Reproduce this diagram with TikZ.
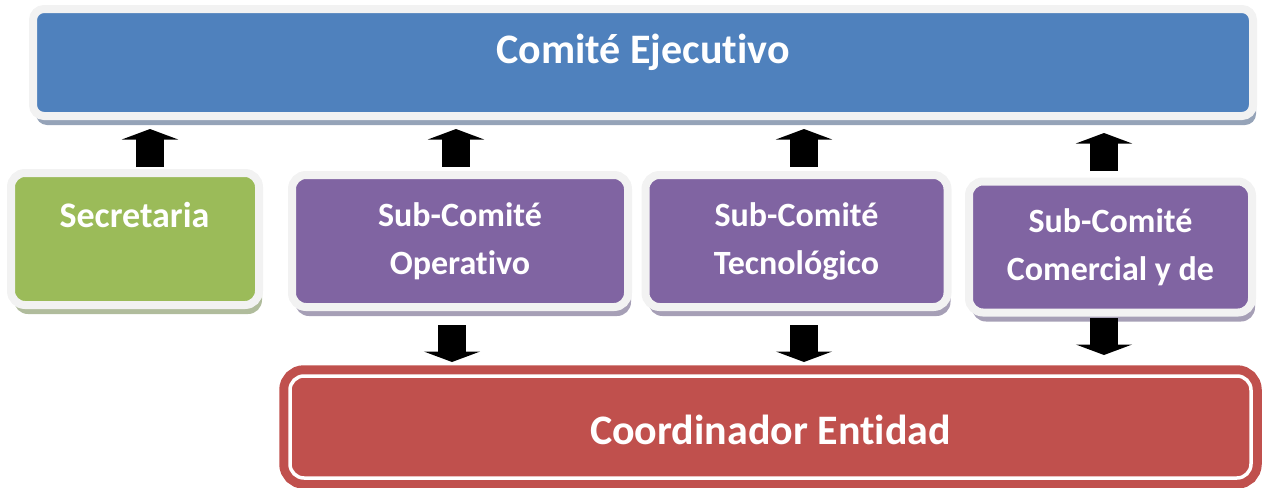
\documentclass[tikz,border=0pt]{standalone}
\usepackage{fontspec}
\setmainfont{Carlito}[Ligatures={NoCommon,NoContextual}]
\usetikzlibrary{arrows.meta,shadows}

\definecolor{framegray}{HTML}{F2F2F2}
\definecolor{ejecblue}{HTML}{4F81BD}
\definecolor{ejecshade}{HTML}{95A3B8}
\definecolor{secgreen}{HTML}{9BBB59}
\definecolor{secshade}{HTML}{B0BC9C}
\definecolor{subpurple}{HTML}{8064A2}
\definecolor{subshade}{HTML}{A69FB6}
\definecolor{coordred}{HTML}{C0504D}

\tikzset{
  orgbox/.style={draw=framegray, line width=4pt, rounded corners=7pt, inner sep=0pt,
    text=white, align=center, font=\bfseries\fontsize{17}{24}\selectfont},
  boxshadow/.style={drop shadow={fill=#1, opacity=1, shadow xshift=1.5pt, shadow yshift=-4.5pt}},
  boxtext/.style={text=white, inner sep=0pt, font=\bfseries\fontsize{#1}{#1}\selectfont},
  uparrow/.style={line width=14pt, -{Triangle[width=28pt,length=5.25pt]},
    shorten <=2.25pt, shorten >=4.5pt},
  downarrow/.style={line width=14pt, -{Triangle[width=28pt,length=5.25pt]},
    shorten <=7pt, shorten >=4.75pt}
}

\begin{document}
\begin{tikzpicture}[x=0.5pt, y=-0.5pt]
    \useasboundingbox (0,0) rectangle (1266,488);

    % top
    \node[orgbox, fill=ejecblue, boxshadow=ejecshade, rounded corners=5.5pt,
        minimum width=610pt, minimum height=53.5pt] (ejec) at (643,62.5) {};
    \node[boxtext=21, anchor=base] (ejectxt) at (643,63) {Comité Ejecutivo};

    % middle row
    \node[orgbox, fill=secgreen, boxshadow=secshade,
        minimum width=124pt, minimum height=66pt] (sec) at (135,239) {};
    \node[boxtext=18, anchor=base] (sectxt) at (134.5,227) {Secretaria};

    \node[orgbox, fill=subpurple, boxshadow=subshade,
        minimum width=168pt, minimum height=66pt] (ops) at (460,241) {Sub-Comité\\Operativo};
    \node[orgbox, fill=subpurple, boxshadow=subshade,
        minimum width=151pt, minimum height=66pt] (tec) at (796.5,241) {Sub-Comité\\Tecnológico};
    \node[orgbox, fill=subpurple, boxshadow=subshade,
        minimum width=141.5pt, minimum height=65.5pt] (com) at (1110.5,247) {Sub-Comité\\Comercial y de};

    % bottom
    \node[draw=coordred, double=white, double distance=1.75pt, line width=4.5pt,
        fill=coordred, rounded corners=7pt, inner sep=0pt,
        minimum width=480.5pt, minimum height=51pt,
        boxtext=21] (coord) at (770.5,427) {\raisebox{-1.5pt}[\height][\depth]{Coordinador Entidad}};

    % arrows
    \coordinate (secup) at ([xshift=7.5pt]sec.north);
    \coordinate (opsup) at ([xshift=-2pt]ops.north);
    \coordinate (tecup) at ([xshift=3.75pt]tec.north);
    \coordinate (comup) at ([xshift=-3.25pt]com.north);
    \coordinate (opsdown) at ([xshift=-4pt]ops.south);
    \coordinate (tecdown) at ([xshift=3.75pt]tec.south);
    \coordinate (comdown) at ([xshift=-3.25pt]com.south);

    \draw[uparrow, shorten <=1pt] (secup) -- (secup |- ejec.south);
    \draw[uparrow] (opsup) -- (opsup |- ejec.south);
    \draw[uparrow] (tecup) -- (tecup |- ejec.south);
    \draw[uparrow, shorten <=3.25pt, shorten >=6.5pt] (comup) -- (comup |- ejec.south);

    \draw[downarrow] (opsdown) -- (opsdown |- coord.north);
    \draw[downarrow] (tecdown) -- (tecdown |- coord.north);
    \draw[downarrow, shorten <=0.75pt, shorten >=8.25pt] (comdown) -- (comdown |- coord.north);
\end{tikzpicture}
\end{document}
